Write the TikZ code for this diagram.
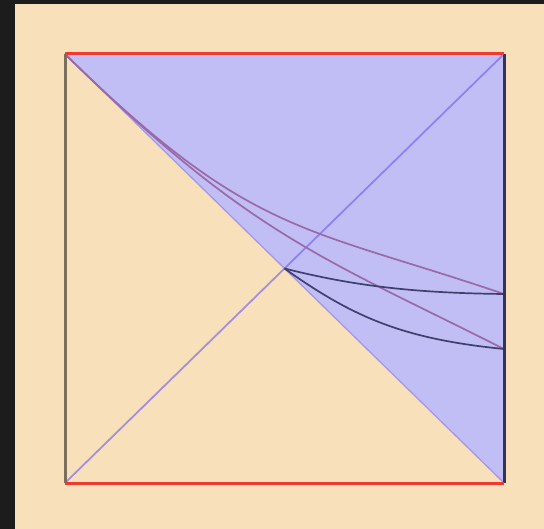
\documentclass[tikz,border=0pt]{standalone}
\usepackage{tikz}
\definecolor{cbeige}{HTML}{F8E0BA}
\definecolor{cframe}{HTML}{1C1C1C}
\definecolor{cfill}{HTML}{C0BEF5}
\definecolor{cred}{HTML}{EE3A30}
\definecolor{cblue}{HTML}{6E5AF0}
\definecolor{cmauve}{HTML}{9A6AA8}
\definecolor{cnavy}{HTML}{40406E}
\definecolor{colive}{HTML}{7A6E5C}

\begin{document}
\begin{tikzpicture}[x=1pt, y=-1pt,
  border/.style={line width=3pt},
  diag/.style={cblue, opacity=0.6, line width=1.8pt},
  curve/.style={line width=1.7pt}]
  \useasboundingbox (0,0) rectangle (544,529);
  \fill[cframe] (0,0) rectangle (544,529);
  \fill[cbeige] (15,4) rectangle (544,529);
  % corners of the diagram
  \coordinate (tl) at (65,54);
  \coordinate (tr) at (504,54);
  \coordinate (bl) at (65,483);
  \coordinate (br) at (504,483);
  \coordinate (mid) at (284.5,268.5);
  \coordinate (p1) at (504,294);
  \coordinate (p2) at (504,349);
  \fill[cfill] (tl) -- (tr) -- (br) -- cycle;
  \draw[diag] (bl) -- (tr);
  \draw[diag, opacity=0.45, line width=1.3pt] (tl) -- (br);
  \draw[curve, cmauve] (tl) .. controls (250,236) and (304,226) .. (p1);
  \draw[curve, cmauve] (tl) .. controls (250,236) and (324,258) .. (p2);
  \draw[curve, cnavy] (mid) .. controls (354,286) and (414,293) .. (p1);
  \draw[curve, cnavy] (mid) .. controls (354,318) and (404,339) .. (p2);
  \draw[border, colive] (bl) -- (tl);
  \draw[border, cnavy!80!black] (tr) -- (br);
  \draw[border, cred] (tl) -- (tr);
  \draw[border, cred] (bl) -- (br);
\end{tikzpicture}
\end{document}
